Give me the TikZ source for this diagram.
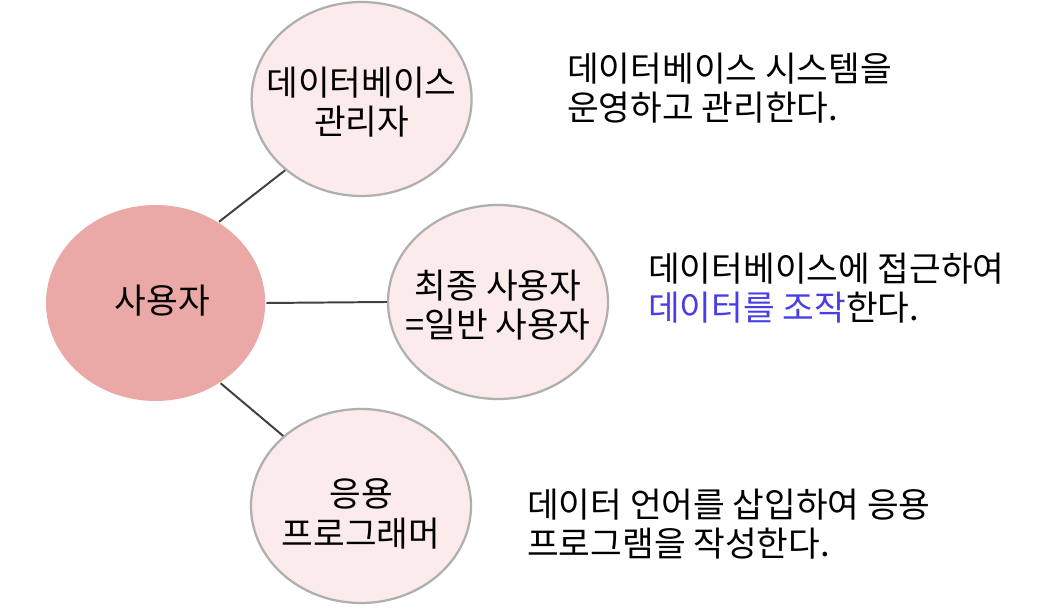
\documentclass[tikz,border=0pt]{standalone}
\usepackage{fontspec}
\setmainfont{Noto Sans CJK KR}
\usetikzlibrary{shapes.geometric, positioning}

\definecolor{userfill}{RGB}{234,168,166}
\definecolor{bubblefill}{RGB}{251,236,235}
\definecolor{bubbleline}{RGB}{175,175,175}
\definecolor{linkgray}{RGB}{64,64,64}
\definecolor{hiblue}{RGB}{72,62,232}

\begin{document}
\begin{tikzpicture}[
    bubble/.style = {ellipse, draw=bubbleline, line width=1.6pt, fill=bubblefill,
                     minimum width=5.5cm, minimum height=4.85cm, inner sep=0pt},
    userbubble/.style = {bubble, draw=none, fill=userfill,
                         minimum width=5.48cm, minimum height=4.9cm},
    bubbletext/.style = {align=center, inner sep=0pt, font=\fontsize{24.5}{28}\selectfont},
    desc/.style = {anchor=west, align=left, inner sep=0pt,
                   font=\fontsize{24.5}{27.5}\selectfont},
    link/.style = {line width=1.4pt, linkgray},
]

%% ---- Frame ----
\useasboundingbox[fill=white] (0,0) rectangle (26.225,15.3);

%% ---- Bubbles ----
\node[userbubble] (user)    at (3.89, 7.725)  {};
\node[bubble]     (dba)     at (9.04, 12.825) {};
\node[bubble]     (enduser) at (12.45, 7.75)  {};
\node[bubble]     (prog)    at (9.025, 2.65)  {};

%% ---- Bubble texts ----
\node[bubbletext] (usertext) at ([xshift=0.17cm, yshift=0.07cm]user.center) {사용자};
\node[bubbletext] (dbatext)  at ([yshift=-0.08cm]dba.center) {데이터베이스\\관리자};
\node[bubbletext] (endtext)  at ([yshift=-0.07cm]enduser.center) {최종 사용자\\=일반 사용자};
\node[bubbletext] (progtext) at ([yshift=-0.2cm]prog.center) {응용\\프로그래머};

%% ---- Connectors ----
\draw[link] (user.52) -- (dba.223);
\draw[link] (user.east) -- (enduser.west);
\draw[link] (user.-51) -- (prog.138);

%% ---- Descriptions ----
\node[desc] (dbadesc)  at (14.175, 13.1) {데이터베이스 시스템을\\운영하고 관리한다.};
\node[desc] (enddesc)  at (16.2, 8.09)   {데이터베이스에 접근하여\\\textcolor{hiblue}{데이터를 조작}한다.};
\node[desc] (progdesc) at (13.175, 2.2)  {데이터 언어를 삽입하여 응용\\프로그램을 작성한다.};

\end{tikzpicture}
\end{document}
